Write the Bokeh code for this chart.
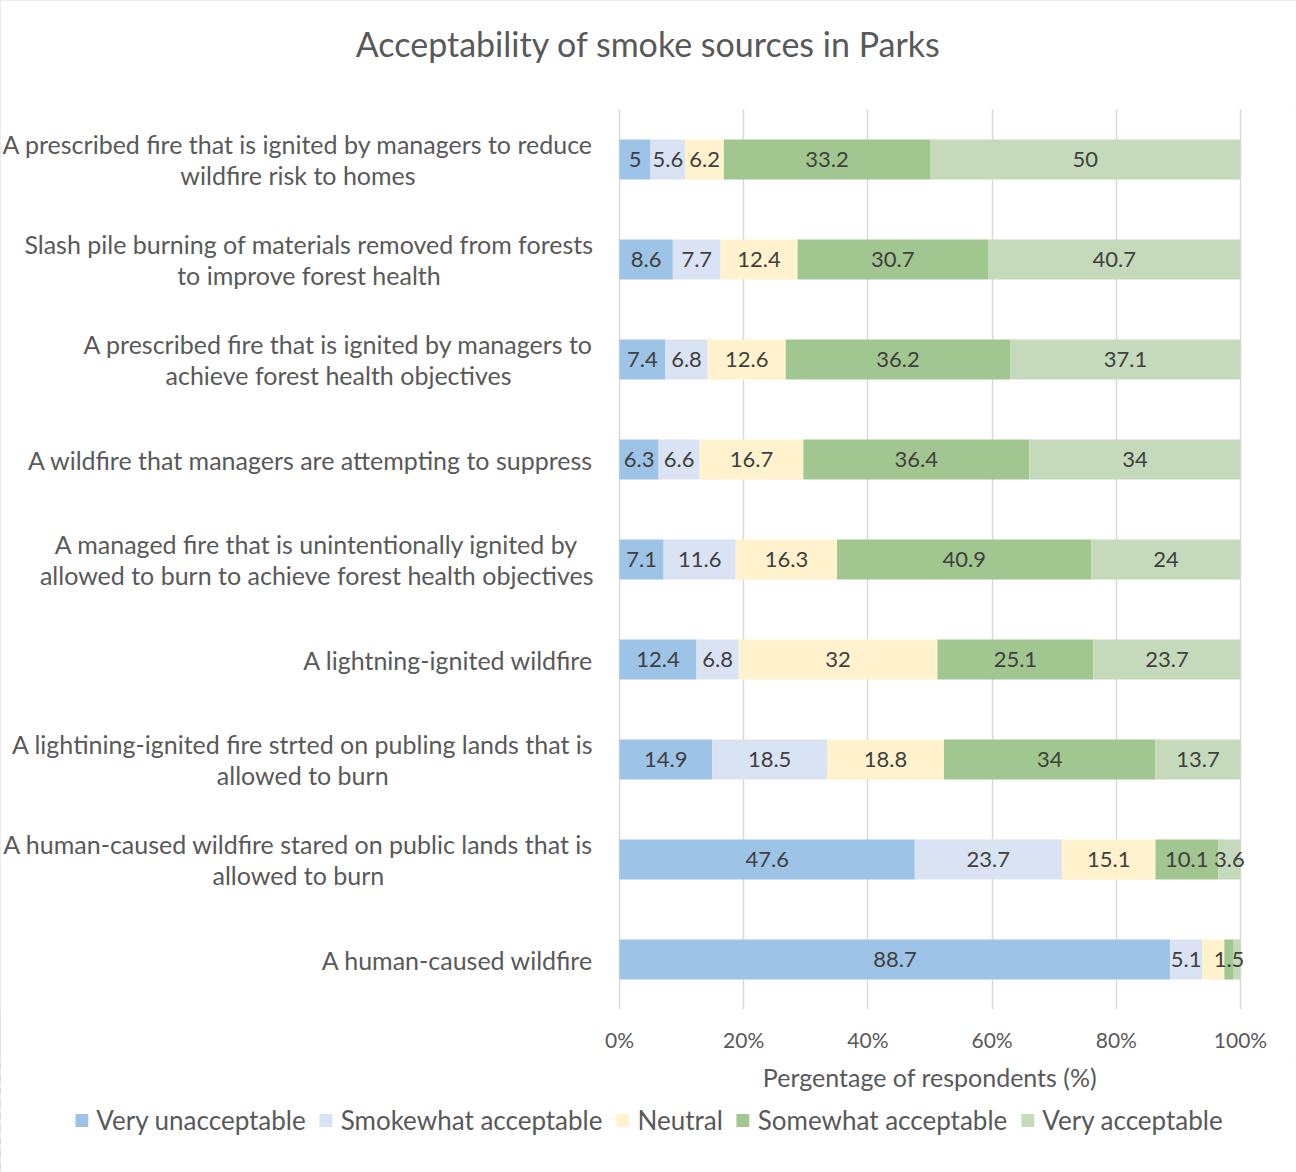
from bokeh.plotting import figure
from bokeh.layouts import column
from bokeh.models import (ColumnDataSource, FactorRange, Range1d, FixedTicker,
                          Legend, LegendItem, Label)
from bokeh.core.properties import value
from bokeh.embed import file_html
from bokeh.resources import INLINE

# ---------------- data ----------------
categories = [
    "A prescribed fire that is ignited by managers to reduce\nwildfire risk to homes",
    "Slash pile burning of materials removed from forests\nto improve forest health",
    "A prescribed fire that is ignited by managers to\nachieve forest health objectives",
    "A wildfire that managers are attempting to suppress",
    "A managed fire that is unintentionally ignited by\nallowed to burn to achieve forest health objectives",
    "A lightning-ignited wildfire",
    "A lightining-ignited fire strted on publing lands that is\nallowed to burn",
    "A human-caused wildfire stared on public lands that is\nallowed to burn",
    "A human-caused wildfire",
]
series_names = ["Very unacceptable", "Smokewhat acceptable", "Neutral",
                "Somewhat acceptable", "Very acceptable"]
very_unacceptable = [5, 8.6, 7.4, 6.3, 7.1, 12.4, 14.9, 47.6, 88.7]
smokewhat_acceptable = [5.6, 7.7, 6.8, 6.6, 11.6, 6.8, 18.5, 23.7, 5.1]
neutral = [6.2, 12.4, 12.6, 16.7, 16.3, 32, 18.8, 15.1, 3.6]
somewhat_acceptable = [33.2, 30.7, 36.2, 36.4, 40.9, 25.1, 34, 10.1, 1.5]
very_acceptable = [50, 40.7, 37.1, 34, 24, 23.7, 13.7, 3.6, 1.1]
hidden_labels = [(8, 2), (8, 4)]  # (row, series) whose value label is not shown
x_ticks = [0, 20, 40, 60, 80, 100]
x_tick_labels = ["0%", "20%", "40%", "60%", "80%", "100%"]
title_text = "Acceptability of smoke sources in Parks"
x_title = "Pergentage of respondents (%)"

series = [very_unacceptable, smokewhat_acceptable, neutral, somewhat_acceptable, very_acceptable]
colors = ["#9DC3E6", "#DAE3F3", "#FFF2CC", "#A2C68F", "#C5DABA"]

FONT = "Lato"
TXT = "#595959"

# ---------------- layout geometry (pixels) ----------------
W, H = 1296, 1172
frame_top, frame_bottom = 109, 1009
tick_band = 50
px_zero, px_full = 619, 1240
scale = (px_full - px_zero) / 100.0
x_lo, x_hi = -px_zero / scale, 100 + (W - px_full) / scale


def strip(height, x_range=None, y_range=None):
    kw = {}
    if x_range is not None:
        kw["x_range"] = x_range
    if y_range is not None:
        kw["y_range"] = y_range
    f = figure(width=W, height=height, output_backend="svg", toolbar_location=None,
               x_axis_type=None, y_axis_type=None, outline_line_color=None,
               min_border_left=0, min_border_right=0, min_border_top=0,
               min_border_bottom=0, **kw)
    f.title.visible = False
    f.xgrid.visible = False
    f.ygrid.visible = False
    return f


# ---------------- title strip ----------------
top = strip(frame_top)
top.add_layout(Label(x=W / 2, y=frame_top - 43, x_units="screen", y_units="screen",
                     text=title_text, text_font=FONT, text_font_size="34px",
                     text_color=TXT, text_align="center", text_baseline="middle"))

# ---------------- main chart ----------------
p = figure(
    width=W, height=frame_bottom - frame_top + tick_band,
    y_range=FactorRange(factors=list(reversed(categories)), range_padding=0),
    x_range=Range1d(x_lo, x_hi),
    output_backend="svg", toolbar_location=None,
    min_border_left=0, min_border_right=0,
    min_border_top=0, min_border_bottom=tick_band,
    outline_line_color=None,
)
p.title.visible = False
p.yaxis.visible = False
p.ygrid.grid_line_color = None

xa = p.xaxis[0]
xa.ticker = FixedTicker(ticks=x_ticks)
xa.major_label_overrides = {t: l for t, l in zip(x_ticks, x_tick_labels)}
xa.axis_line_color = None
xa.major_tick_line_color = None
xa.minor_tick_line_color = None
xa.major_label_text_font = FONT
xa.major_label_text_font_size = "21px"
xa.major_label_text_color = TXT
xa.major_label_standoff = 11
p.xgrid.grid_line_color = "#D9D9D9"
p.xgrid.grid_line_width = 1.5

# stacked, normalised to 100 %
totals = [sum(s[i] for s in series) for i in range(len(categories))]
left = [0.0] * len(categories)
sources = []
lx, ly, lt = [], [], []
for k, (name, vals, col) in enumerate(zip(series_names, series, colors)):
    right = [left[i] + vals[i] / totals[i] * 100 for i in range(len(categories))]
    src = ColumnDataSource(dict(y=categories, left=left, right=right))
    sources.append(src)
    p.hbar(y="y", left="left", right="right", height=0.4, source=src,
           fill_color=col, line_color=None)
    for i in range(len(categories)):
        if (i, k) in hidden_labels:
            continue
        lx.append((left[i] + right[i]) / 2)
        ly.append(categories[i])
        lt.append(f"{vals[i]:g}")
    left = right

p.text(x=lx, y=ly, text=lt, text_font=value(FONT), text_font_size="22px",
       text_color="#404040", text_align="center", text_baseline="middle")

# category labels (right-anchored block, centred lines)
p.text(x=[0] * len(categories), y=categories, text=categories, x_offset=-26,
       anchor="center_right", text_align="center", text_baseline="middle",
       text_font=value(FONT), text_font_size="25px", text_color=TXT,
       text_line_height=1.04)

# ---------------- axis title + legend strip ----------------
bot_h = H - (frame_bottom + tick_band)
# legend proxies use the same data, but this strip's x window shows none of it
bot = strip(bot_h, x_range=Range1d(1000, 1001),
            y_range=FactorRange(factors=list(reversed(categories))))
bot.add_layout(Label(x=W / 2 + (px_zero + px_full - W) / 2,
                     y=bot_h - (1076 - frame_bottom - tick_band),
                     x_units="screen", y_units="screen",
                     text=x_title, text_font=FONT, text_font_size="25px",
                     text_color=TXT, text_align="center", text_baseline="middle"))
items = []
for name, col, src in zip(series_names, colors, sources):
    r = bot.hbar(y="y", left="left", right="right", height=0.4, source=src,
                 fill_color=col, line_color=None)
    items.append(LegendItem(label=name, renderers=[r]))
legend = Legend(
    items=items, orientation="horizontal", location="top_center",
    label_text_font=FONT, label_text_font_size="26px", label_text_color=TXT,
    glyph_width=16, glyph_height=16, label_standoff=7, spacing=12,
    label_height=26, border_line_color=None, background_fill_alpha=0,
    margin=(1117 - frame_bottom - tick_band) - 13, padding=0,
)
bot.add_layout(legend)

layout = column(top, p, bot, spacing=0,
                styles={"outline": "1px solid #D9D9D9", "outline-offset": "-1px"})
open("out.html", "w").write(file_html(layout, INLINE))
